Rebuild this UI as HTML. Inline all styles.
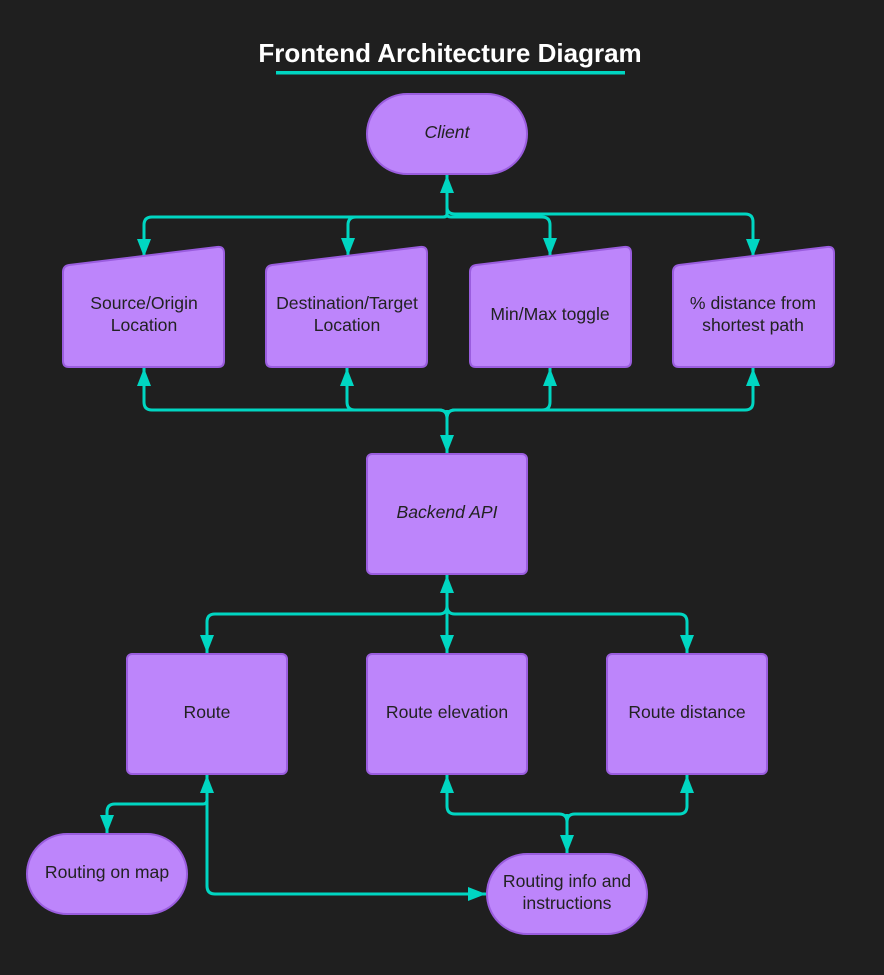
<!DOCTYPE html>
<html><head><meta charset="utf-8"><style>
html,body{margin:0;padding:0;background:#1f1f1f;}
svg{display:block}
text{font-family:"Liberation Sans",sans-serif;}
</style></head><body>
<svg width="884" height="975" viewBox="0 0 884 975" xmlns="http://www.w3.org/2000/svg">
<defs>
<marker id="a" viewBox="0 0 18 14" refX="18" refY="7" markerWidth="18" markerHeight="14" markerUnits="userSpaceOnUse" orient="auto"><path d="M0,0 L18,7 L0,14 Z" fill="#00d6c2"/></marker>
</defs>
<rect width="884" height="975" fill="#1f1f1f"/>
<text x="450" y="62" text-anchor="middle" font-size="26" font-weight="bold" fill="#fff">Frontend Architecture Diagram</text>
<rect x="276" y="71" width="349" height="3.5" fill="#00d6c2"/>

<g fill="none" stroke="#00d6c2" stroke-width="3" stroke-linejoin="round">
<path d="M447,214 L447,175" marker-end="url(#a)"/>
<path d="M447,214 Q447,217 443,217 L152,217 Q144,217 144,225 L144,257" marker-end="url(#a)"/>
<path d="M447,214 Q447,217 443,217 L356,217 Q348,217 348,225 L348,256" marker-end="url(#a)"/>
<path d="M447,214 Q447,217 451,217 L542,217 Q550,217 550,225 L550,256" marker-end="url(#a)"/>
<path d="M447,207 Q447,214 455,214 L745,214 Q753,214 753,222 L753,257" marker-end="url(#a)"/>
<path d="M447,410 L447,453" marker-end="url(#a)"/>
<path d="M447,418 Q447,410 439,410 L152,410 Q144,410 144,402 L144,368" marker-end="url(#a)"/>
<path d="M447,418 Q447,410 439,410 L355,410 Q347,410 347,402 L347,368" marker-end="url(#a)"/>
<path d="M447,418 Q447,410 455,410 L542,410 Q550,410 550,402 L550,368" marker-end="url(#a)"/>
<path d="M447,418 Q447,410 455,410 L745,410 Q753,410 753,402 L753,368" marker-end="url(#a)"/>
<path d="M447,614 L447,575" marker-end="url(#a)"/>
<path d="M447,606 Q447,614 439,614 L215,614 Q207,614 207,622 L207,653" marker-end="url(#a)"/>
<path d="M447,614 L447,653" marker-end="url(#a)"/>
<path d="M447,606 Q447,614 455,614 L679,614 Q687,614 687,622 L687,653" marker-end="url(#a)"/>
<path d="M207,804 L207,775" marker-end="url(#a)"/>
<path d="M207,800 Q207,804 203,804 L115,804 Q107,804 107,812 L107,833" marker-end="url(#a)"/>
<path d="M207,800 L207,886 Q207,894 215,894 L486,894" marker-end="url(#a)"/>
<path d="M567,822 Q567,814 559,814 L455,814 Q447,814 447,806 L447,775" marker-end="url(#a)"/>
<path d="M567,822 Q567,814 575,814 L679,814 Q687,814 687,806 L687,775" marker-end="url(#a)"/>
<path d="M567,814 L567,853" marker-end="url(#a)"/>
</g>

<g fill="#bd85fb" stroke="#9a5ddf" stroke-width="2">
<rect x="367" y="94" width="160" height="80" rx="40"/>
<path d="M63,272 Q63,266 69,265 L217,247 Q224,246 224,253 L224,361 Q224,367 218,367 L69,367 Q63,367 63,361 Z"/>
<path d="M266,272 Q266,266 272,265 L420,247 Q427,246 427,253 L427,361 Q427,367 421,367 L272,367 Q266,367 266,361 Z"/>
<path d="M470,272 Q470,266 476,265 L624,247 Q631,246 631,253 L631,361 Q631,367 625,367 L476,367 Q470,367 470,361 Z"/>
<path d="M673,272 Q673,266 679,265 L827,247 Q834,246 834,253 L834,361 Q834,367 828,367 L679,367 Q673,367 673,361 Z"/>
<rect x="367" y="454" width="160" height="120" rx="5"/>
<rect x="127" y="654" width="160" height="120" rx="5"/>
<rect x="367" y="654" width="160" height="120" rx="5"/>
<rect x="607" y="654" width="160" height="120" rx="5"/>
<rect x="27" y="834" width="160" height="80" rx="40"/>
<rect x="487" y="854" width="160" height="80" rx="40"/>
</g>

<g font-size="17.6" fill="#222" text-anchor="middle">
<text x="447" y="138" font-style="italic">Client</text>
<text x="144" y="309">Source/Origin</text><text x="144" y="331">Location</text>
<text x="347" y="309">Destination/Target</text><text x="347" y="331">Location</text>
<text x="550" y="320">Min/Max toggle</text>
<text x="753" y="309">% distance from</text><text x="753" y="331">shortest path</text>
<text x="447" y="518" font-style="italic">Backend API</text>
<text x="207" y="718">Route</text>
<text x="447" y="718">Route elevation</text>
<text x="687" y="718">Route distance</text>
<text x="107" y="878">Routing on map</text>
<text x="567" y="887">Routing info and</text><text x="567" y="909">instructions</text>
</g>
</svg>
</body></html>
